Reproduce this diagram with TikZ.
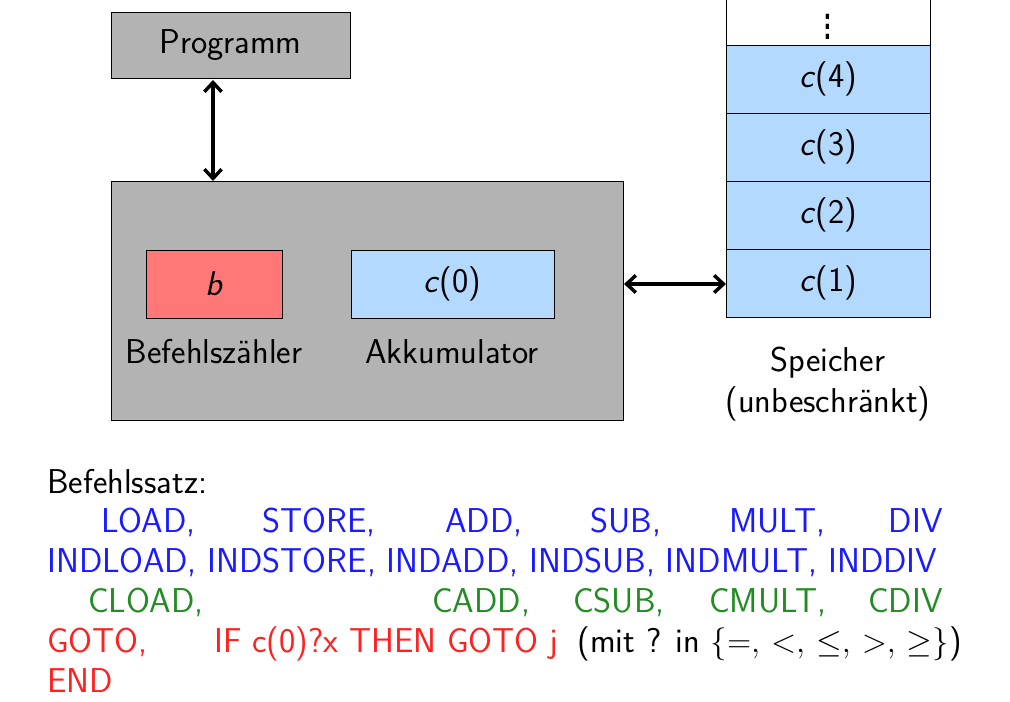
\documentclass[tikz,border=0pt]{standalone}
\usepackage{amssymb,graphicx}
\usetikzlibrary{arrows.meta}
\begin{document}
\begin{tikzpicture}[x=0.0265cm,y=-0.0265cm,font=\sffamily\fontsize{26}{30}\selectfont,
  box/.style={draw,line width=0.5pt,inner sep=0pt},
  dbl/.style={<->,line width=2.6pt,>={Straight Barb[length=7pt,width=13pt]}},
  w/.style={anchor=base west,inner sep=0pt},
  e/.style={anchor=base east,inner sep=0pt}]
\definecolor{gr}{HTML}{B3B3B3}\definecolor{rd}{HTML}{FF7777}\definecolor{lb}{HTML}{B3D9FF}
\definecolor{tb}{HTML}{1A1AFF}\definecolor{tg}{HTML}{228B22}\definecolor{tr}{HTML}{FF2020}
\useasboundingbox (0,0) rectangle (1010,702);
\path[box,fill=gr] (111,12) rectangle (350,78);
\node (progt) at (230.5,45) {Programm};
\path[box,fill=gr] (111,181) rectangle (623,420);
\path[box,fill=rd] (146,250) rectangle (282,318);
\path[box,fill=lb] (351,250) rectangle (554,318);
\node (b) at (214,284) {\textit{b}};
\node (c0) at (452.5,284) {\textit{c}(0)};
\node (bz) at (214,352) {Befehlszähler};
\node (ak) at (452,352) {Akkumulator};
\coordinate (pa) at (213,80); \coordinate (pb) at (213,181);
\draw[dbl] (pa) -- (pb);
\coordinate (ha) at (624,284); \coordinate (hb) at (726,284);
\draw[dbl] (ha) -- (hb);
\path[box,fill=white] (726,-2) rectangle (930,45);
\node[inner sep=0pt] (vd) at (828,19) {\scalebox{1.2}[1.9]{$\vdots$}};
\foreach \t/\n [count=\i] in {45/4,113/3,181/2,249/1}{
  \path[box,fill=lb] (726,\t) rectangle (930,\t+68);
  \node (m\n) at (828,\t+34) {\textit{c}(\n)};
}
\node (sp) at (828,363) {Speicher};
\node (sp2) at (828,404) {(unbeschränkt)};
\node[w] (bs) at (47,494) {Befehlssatz:};
\begin{scope}[tb]
\node[w] (l1) at (101,533) {LOAD,};
\node[w] (l2) at (262,533) {STORE,};
\node[w] (l3) at (445,533) {ADD,};
\node[w] (l4) at (590,533) {SUB,};
\node[w] (l5) at (729,533) {MULT,};
\node[e] (l6) at (943,533) {DIV};
\node[w] (i1) at (47,573) {INDLOAD, INDSTORE, INDADD, INDSUB, INDMULT, INDDIV};
\end{scope}
\begin{scope}[tg]
\node[w] (c1) at (88,613) {CLOAD,};
\node[w] (c2) at (432,613) {CADD,};
\node[w] (c3) at (573,613) {CSUB,};
\node[w] (c4) at (709,613) {CMULT,};
\node[e] (c5) at (943,613) {CDIV};
\end{scope}
\node[w,tr] (g1) at (47,653) {GOTO,};
\node[w,tr] (g2) at (214,653) {IF c(0)?x THEN GOTO j};
\node[e] (g3) at (962,653) {(mit ? in $\{=,\,<,\,\leq,\,>,\,\geq\}$)};
\node[w,tr] (end) at (47,693) {END};
\end{tikzpicture}
\end{document}
